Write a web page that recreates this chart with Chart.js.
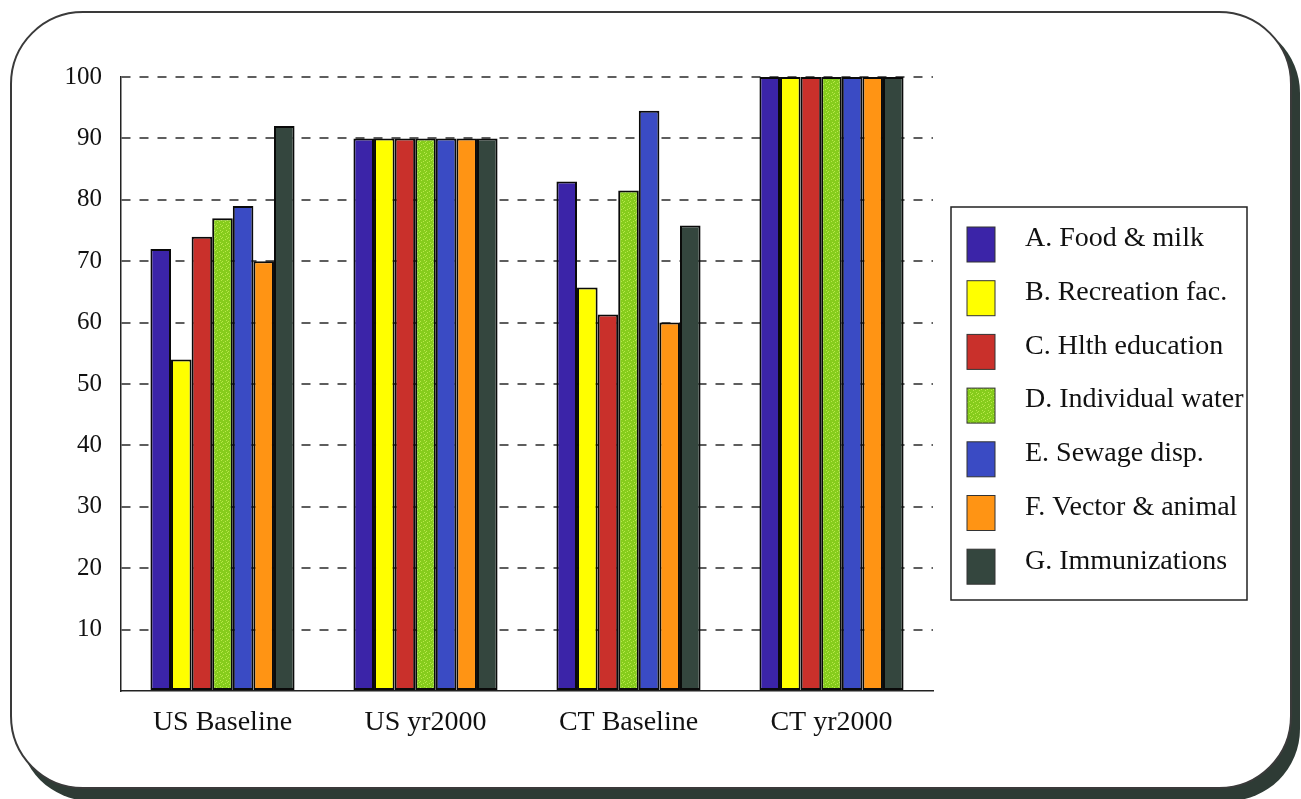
<!DOCTYPE html>
<html>
<head>
<meta charset="utf-8">
<title>Environmental health service coverage</title>
<script src="https://cdn.jsdelivr.net/npm/chart.js@4/dist/chart.umd.min.js"></script>
<style>
  html, body { margin: 0; padding: 0; background: #ffffff; }
  #wrap { position: relative; width: 1301px; height: 799px; }
  canvas { display: block; }
</style>
</head>
<body>
<div id="wrap"><canvas id="chart" width="1301" height="799"></canvas></div>
<script>
// Groups along the x axis
const categories = ['US Baseline', 'US yr2000', 'CT Baseline', 'CT yr2000'];

// Service names (legend order)
const seriesNames = [
  'A. Food & milk',
  'B. Recreation fac.',
  'C. Hlth education',
  'D. Individual water',
  'E. Sewage disp.',
  'F. Vector & animal',
  'G. Immunizations'
];

// Percent coverage per service, one value per group
const foodMilk       = [72, 90, 83,   100];
const recreation     = [54, 90, 65.7, 100];
const healthEdu      = [74, 90, 61.3, 100];
const indivWater     = [77, 90, 81.5, 100];
const sewage         = [79, 90, 94.5, 100];
const vectorAnimal   = [70, 90, 60,   100];
const immunizations  = [92, 90, 75.8, 100];

// Y axis ticks
const yTicks = [10, 20, 30, 40, 50, 60, 70, 80, 90, 100];

const seriesValues = [foodMilk, recreation, healthEdu, indivWater, sewage, vectorAnimal, immunizations];
const seriesColors = ['#3b24a8', '#ffff00', '#c9302b', '#86cc1c', '#3a4bc4', '#ff9414', '#34463e'];

const SERIF = '"Liberation Serif", "DejaVu Serif", serif';

// Speckled fill used for the water series
function speckle(base, dot) {
  const c = document.createElement('canvas');
  c.width = 6; c.height = 6;
  const g = c.getContext('2d');
  g.fillStyle = base; g.fillRect(0, 0, 6, 6);
  g.fillStyle = dot;
  [[1,0],[4,2],[0,3],[3,5],[5,4]].forEach(p => g.fillRect(p[0], p[1], 1, 1));
  return g.createPattern(c, 'repeat');
}

const fills = seriesColors.slice();
fills[3] = speckle('#86cc1c', '#b8e84a');

// Rounded frame with a dark drop shadow behind the whole figure
const framePlugin = {
  id: 'frame',
  beforeDraw(chart) {
    const ctx = chart.ctx;
    const rr = (x, y, w, h, r) => {
      ctx.beginPath();
      ctx.moveTo(x + r, y);
      ctx.lineTo(x + w - r, y);
      ctx.arcTo(x + w, y, x + w, y + r, r);
      ctx.lineTo(x + w, y + h - r);
      ctx.arcTo(x + w, y + h, x + w - r, y + h, r);
      ctx.lineTo(x + r, y + h);
      ctx.arcTo(x, y + h, x, y + h - r, r);
      ctx.lineTo(x, y + r);
      ctx.arcTo(x, y, x + r, y, r);
      ctx.closePath();
    };
    ctx.save();
    ctx.fillStyle = '#ffffff';
    ctx.fillRect(0, 0, chart.width, chart.height);
    rr(19, 21, 1281, 780, 72);
    ctx.fillStyle = '#2e3b35';
    ctx.fill();
    rr(11, 12, 1280, 776, 72);
    ctx.fillStyle = '#ffffff';
    ctx.fill();
    ctx.lineWidth = 2;
    ctx.strokeStyle = '#3a3a3a';
    ctx.stroke();
    ctx.restore();
  }
};

// Boxed legend on the right
const boxLegendPlugin = {
  id: 'boxLegend',
  afterDraw(chart) {
    const ctx = chart.ctx;
    const x0 = 951, y0 = 207, w = 296, h = 393;
    ctx.save();
    ctx.fillStyle = '#ffffff';
    ctx.fillRect(x0, y0, w, h);
    ctx.lineWidth = 1.5;
    ctx.strokeStyle = '#222222';
    ctx.strokeRect(x0, y0, w, h);
    ctx.font = '28px ' + SERIF;
    ctx.textBaseline = 'middle';
    ctx.textAlign = 'left';
    chart.data.datasets.forEach((ds, i) => {
      const cy = 239 + i * 53.7;
      ctx.fillStyle = ds.backgroundColor;
      ctx.fillRect(967, cy - 12, 28, 35);
      ctx.lineWidth = 1;
      ctx.strokeStyle = '#333333';
      ctx.strokeRect(967, cy - 12, 28, 35);
      ctx.fillStyle = '#111111';
      ctx.fillText(ds.label, 1025, cy);
    });
    ctx.restore();
  }
};

const datasets = seriesNames.map((name, i) => ({
  label: name,
  data: seriesValues[i],
  backgroundColor: fills[i],
  borderColor: '#0a0a0a',
  borderWidth: 2,
  borderSkipped: false,
  barPercentage: 1.0,
  categoryPercentage: 0.71
}));

new Chart(document.getElementById('chart'), {
  type: 'bar',
  data: { labels: categories, datasets },
  options: {
    responsive: false,
    animation: false,
    events: [],
    layout: { padding: { left: 0, top: 77, right: 368, bottom: 0 } },
    plugins: {
      legend: { display: false },
      tooltip: { enabled: false },
      title: { display: false }
    },
    scales: {
      x: {
        grid: { display: false, drawTicks: false },
        border: { display: true, color: '#222222', width: 1.5 },
        ticks: {
          color: '#111111',
          font: { family: SERIF, size: 28 },
          padding: 15,
          maxRotation: 0
        },
        afterFit(scale) { scale.height = 108; }
      },
      y: {
        min: 0,
        max: 100,
        afterBuildTicks(scale) {
          scale.ticks = [0].concat(yTicks).map(v => ({ value: v }));
        },
        grid: {
          drawTicks: false,
          color: ctx => ctx.tick && ctx.tick.value === 0 ? 'rgba(0,0,0,0)' : '#5e5e5e',
          lineWidth: 2
        },
        // dashed horizontal grid lines; the axis line itself stays solid
        border: { display: true, color: '#222222', width: 1.5, dash: [9, 9] },
        ticks: {
          color: '#111111',
          font: { family: SERIF, size: 25 },
          padding: 19,
          callback: v => (v === 0 ? '' : String(v))
        },
        afterFit(scale) { scale.width = 121; }
      }
    }
  },
  plugins: [framePlugin, boxLegendPlugin]
});
</script>
</body>
</html>
